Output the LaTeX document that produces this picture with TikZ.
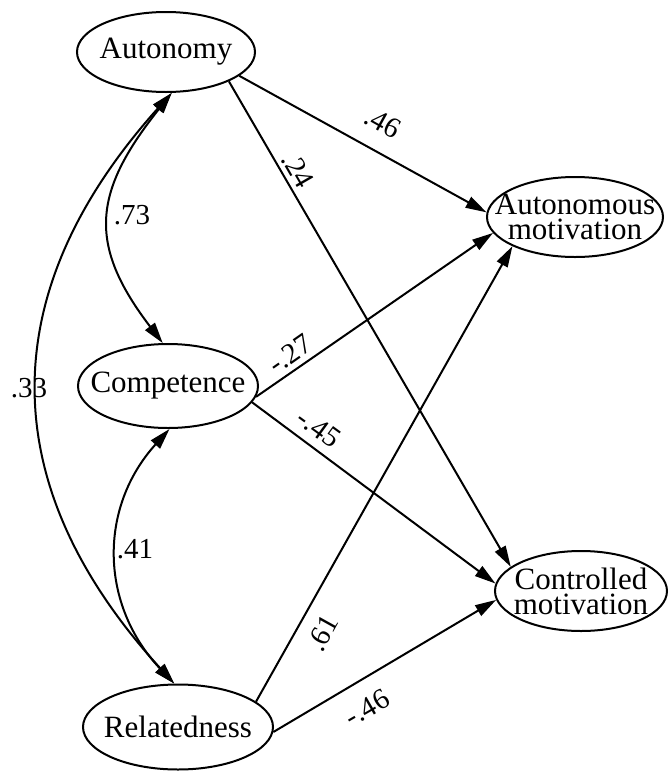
\documentclass[tikz,border=0pt]{standalone}
\usepackage{fontspec}
\setmainfont{Liberation Serif}
\usetikzlibrary{shapes.geometric,arrows.meta}
\begin{document}
\begin{tikzpicture}[x=1pt,y=-1pt,
  ell/.style={draw, ellipse, line width=2pt, inner sep=0pt},
  txt/.style={inner sep=0pt, align=center, font=\fontsize{31}{25}\selectfont},
  lab/.style={inner sep=0pt, font=\fontsize{29}{29}\selectfont},
  conn/.style={line width=2pt, -{Triangle[length=21pt,width=12pt]}},
  bi/.style={line width=2pt, {Triangle[length=21pt,width=12pt]}-{Triangle[length=21pt,width=12pt]}}
]
\useasboundingbox (0,0) rectangle (670,772);

% latent nodes
\node[ell, minimum width=178pt, minimum height=80pt] (aut) at (166,52) {};
\node[txt] (autT) at (aut.center) {Autonomy};
\node[ell, minimum width=180pt, minimum height=84pt] (comp) at (168,386) {};
\node[txt] (compT) at (comp.center) {Competence};
\node[ell, minimum width=190pt, minimum height=85pt] (rel) at (178,727) {};
\node[txt] (relT) at (rel.center) {Relatedness};
\node[ell, minimum width=176pt, minimum height=80pt] (am) at (575,217) {};
\node[txt] (amT) at (am.center) {Autonomous\\motivation};
\node[ell, minimum width=172pt, minimum height=80pt] (cm) at (581,591) {};
\node[txt] (cmT) at (cm.center) {Controlled\\motivation};

% paths
\draw[conn] (aut.-18) -- (am.177);
\draw[conn] (aut.-25) -- (cm.161);
\draw[conn] (comp.-7) -- (am.191);
\draw[conn] (comp.-11) -- (cm.175);
\draw[conn] (rel.18) -- (am.205);
\draw[conn] (rel.-3) -- (cm.186);

% correlations
\draw[bi] (aut.-82) .. controls (93,192) and (87,244) .. (comp.97);
\draw[bi] (aut.-82) .. controls (-7,292) and (-7,485) .. (rel.95);
\draw[bi] (comp.-88) .. controls (98,508) and (100,605) .. (rel.95);

% labels
\node[lab, rotate=-29] (l46) at (383,123) {.46};
\node[lab, rotate=-60] (l24) at (298,170) {.24};
\node[lab, rotate=35] (l27) at (290,354) {-.27};
\node[lab, rotate=-36] (l45) at (319,428) {-.45};
\node[lab, rotate=61] (l61) at (323,633) {.61};
\node[lab, rotate=30] (l46b) at (367,708) {-.46};
\node[lab] (l73) at (132,215) {.73};
\node[lab] (l33) at (29,388) {.33};
\node[lab] (l41) at (135,549) {.41};
\end{tikzpicture}
\end{document}
